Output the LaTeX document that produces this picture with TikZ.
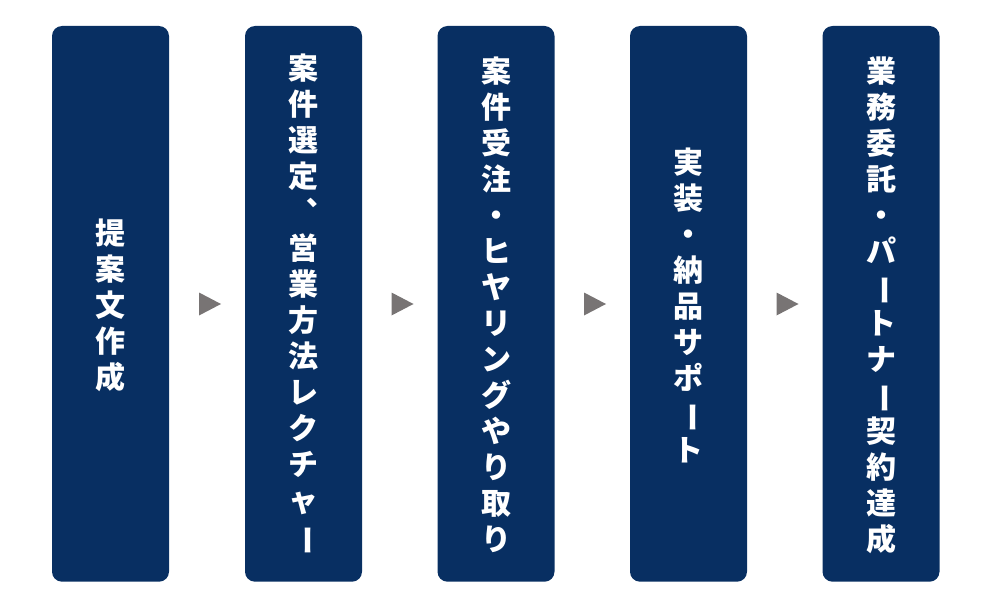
\documentclass[tikz,border=0pt]{standalone}
\usepackage{fontspec}
\usepackage{graphicx}
\newfontfamily\cjk{Noto Sans CJK JP}
\definecolor{navy}{HTML}{082F62}
\definecolor{arrowgray}{HTML}{787474}
\newcommand{\vbarchar}{\rotatebox[origin=c]{-90}{ー}}
\newcommand{\vcomma}{︑}
\tikzset{
  stepbox/.style={fill=navy, draw=none, rounded corners=10pt},
  steptext/.style={text=white, align=center, inner sep=0pt,
    font=\cjk\bfseries\fontsize{30}{36}\selectfont},
  tri/.style={fill=arrowgray, draw=none}
}
\begin{document}
\begin{tikzpicture}[x=1pt,y=-1pt]
\useasboundingbox (0,0) rectangle (991,607);
% boxes
\foreach \n/\l in {1/52,2/245,3/437.5,4/630,5/822.5}{
  \path[stepbox] (\l,26) rectangle ++(117,555.7);
  \coordinate (c\n) at (\l+58.5,305);
}
% arrows
\foreach \n/\l in {1/199,2/391.5,3/584,4/776.5}{
  \fill[tri] (\l,292.5) coordinate (a\n) -- ++(22,11.5) -- ++(-22,11.5) -- cycle;
}
\node[steptext] (t1) at (c1) {提\\案\\文\\作\\成};
\node[steptext] (t2) at (c2) {案\\件\\選\\定\\\vcomma\\営\\業\\方\\法\\レ\\ク\\チ\\ャ\\\vbarchar};
\node[steptext] (t3) at (c3) {案\\件\\受\\注\\・\\ヒ\\ヤ\\リ\\ン\\グ\\や\\り\\取\\り};
\node[steptext] (t4) at (c4) {実\\装\\・\\納\\品\\サ\\ポ\\\vbarchar\\ト};
\node[steptext] (t5) at (c5) {業\\務\\委\\託\\・\\パ\\\vbarchar\\ト\\ナ\\\vbarchar\\契\\約\\達\\成};
\end{tikzpicture}
\end{document}
